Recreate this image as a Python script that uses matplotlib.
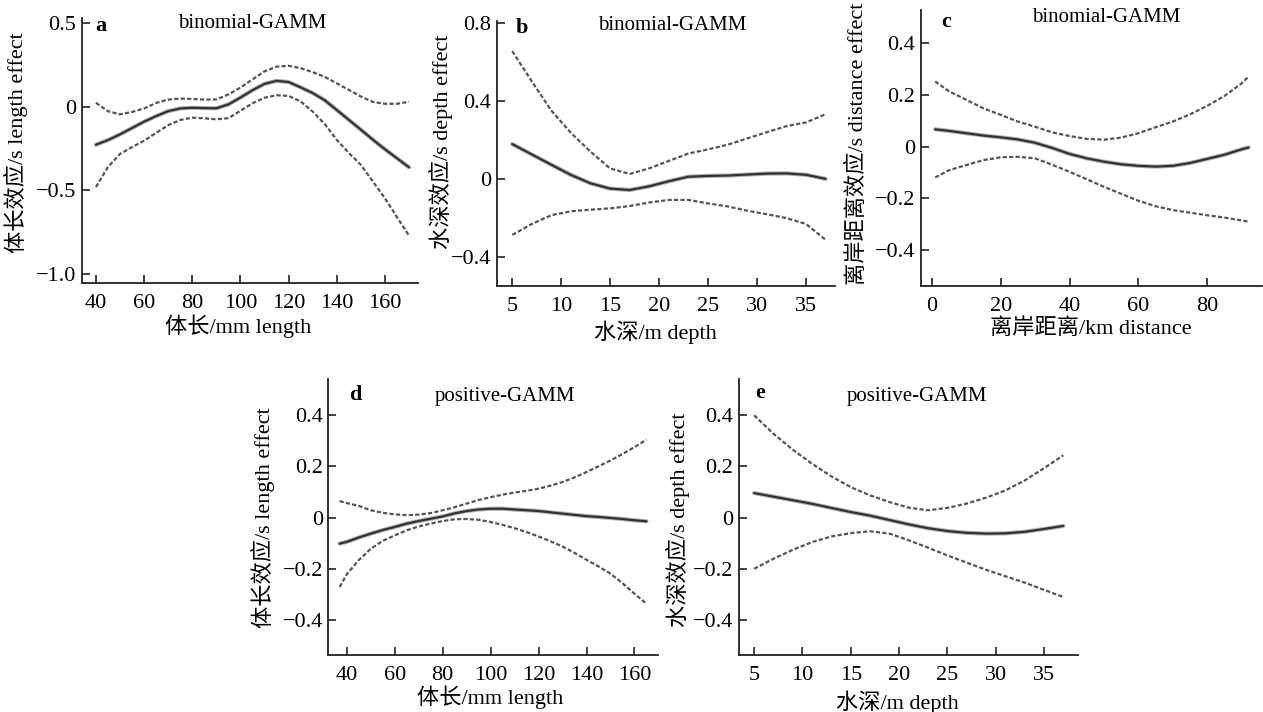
import matplotlib.pyplot as plt

plt.rcParams['font.family'] = ['Liberation Serif', 'Noto Sans CJK SC']
plt.rcParams['axes.unicode_minus'] = True

# ---- data ----
# a: binomial-GAMM, body length (mm)
a_x = [40, 45, 50, 55, 60, 65, 70, 75, 80, 85, 90, 95, 100, 105,
       110, 115, 120, 125, 130, 135, 140, 145, 150, 155, 160, 165, 170]
a_fit = [-0.227, -0.199, -0.165, -0.127, -0.089, -0.056, -0.026, -0.010, -0.006, -0.008, -0.009, 0.014, 0.055, 0.099,
         0.137, 0.155, 0.148, 0.116, 0.082, 0.039, -0.019, -0.078, -0.137, -0.197, -0.254, -0.308, -0.362]
a_up = [0.024, -0.027, -0.045, -0.031, -0.010, 0.023, 0.043, 0.049, 0.047, 0.043, 0.044, 0.074, 0.115, 0.164,
        0.212, 0.240, 0.245, 0.231, 0.207, 0.179, 0.140, 0.101, 0.061, 0.029, 0.018, 0.018, 0.03]
a_lo = [-0.48, -0.36, -0.282, -0.241, -0.203, -0.156, -0.110, -0.079, -0.065, -0.069, -0.075, -0.068, -0.024, 0.021,
        0.054, 0.069, 0.065, 0.032, -0.029, -0.103, -0.198, -0.276, -0.347, -0.447, -0.547, -0.66, -0.77]

# b: binomial-GAMM, depth (m)
b_x = [5, 7, 9, 11, 13, 15, 17, 19, 21, 23, 25, 27, 29, 31, 33, 35, 37]
b_fit = [0.179, 0.126, 0.073, 0.021, -0.022, -0.049, -0.056, -0.037, -0.011, 0.012, 0.016, 0.018, 0.023, 0.028, 0.029, 0.022, 0.001]
b_up = [0.655, 0.50, 0.35, 0.236, 0.14, 0.054, 0.026, 0.055, 0.093, 0.131, 0.152, 0.176, 0.208, 0.24, 0.271, 0.29, 0.332]
b_lo = [-0.286, -0.23, -0.185, -0.165, -0.157, -0.150, -0.138, -0.12, -0.107, -0.107, -0.125, -0.14, -0.162, -0.18, -0.2, -0.23, -0.311]

# c: binomial-GAMM, distance offshore (km)
c_x = [1, 5, 10, 15, 20, 25, 30, 35, 40, 45, 50, 55, 60, 65, 70, 75, 80, 85, 90, 92]
c_fit = [0.067, 0.061, 0.052, 0.043, 0.036, 0.028, 0.015, -0.005, -0.028, -0.045, -0.058, -0.068, -0.074, -0.077, -0.074, -0.063, -0.047, -0.031, -0.010, -0.003]
c_up = [0.252, 0.214, 0.181, 0.148, 0.123, 0.097, 0.077, 0.055, 0.041, 0.03, 0.027, 0.035, 0.052, 0.075, 0.097, 0.125, 0.158, 0.196, 0.245, 0.271]
c_lo = [-0.119, -0.091, -0.071, -0.052, -0.041, -0.039, -0.045, -0.07, -0.097, -0.126, -0.155, -0.182, -0.209, -0.230, -0.245, -0.255, -0.265, -0.274, -0.285, -0.290]

# d: positive-GAMM, body length (mm)
d_x = [37, 40, 45, 50, 55, 60, 65, 70, 75, 80, 85, 90, 95, 100,
       105, 110, 115, 120, 125, 130, 135, 140, 145, 150, 155, 160, 165]
d_fit = [-0.101, -0.094, -0.077, -0.062, -0.048, -0.036, -0.023, -0.013, -0.004, 0.005, 0.017, 0.026, 0.032, 0.035,
         0.035, 0.032, 0.029, 0.026, 0.021, 0.016, 0.011, 0.006, 0.003, -0.001, -0.005, -0.01, -0.014]
d_up = [0.065, 0.057, 0.046, 0.029, 0.019, 0.013, 0.010, 0.012, 0.018, 0.029, 0.041, 0.055, 0.069, 0.080,
        0.090, 0.098, 0.105, 0.113, 0.125, 0.139, 0.157, 0.178, 0.2, 0.223, 0.248, 0.275, 0.304]
d_lo = [-0.27, -0.22, -0.165, -0.121, -0.09, -0.069, -0.049, -0.034, -0.023, -0.013, -0.006, -0.005, -0.008, -0.017,
        -0.028, -0.041, -0.056, -0.073, -0.092, -0.112, -0.137, -0.164, -0.19, -0.218, -0.255, -0.296, -0.335]

# e: positive-GAMM, depth (m)
e_x = [5, 7, 9, 11, 13, 15, 17, 19, 21, 23, 25, 27, 29, 31, 33, 35, 37]
e_fit = [0.096, 0.082, 0.068, 0.054, 0.038, 0.022, 0.008, -0.009, -0.026, -0.041, -0.052, -0.059, -0.062, -0.061, -0.055, -0.044, -0.032]
e_up = [0.399, 0.327, 0.265, 0.210, 0.161, 0.119, 0.087, 0.061, 0.039, 0.029, 0.038, 0.055, 0.078, 0.106, 0.145, 0.193, 0.243]
e_lo = [-0.199, -0.160, -0.125, -0.095, -0.073, -0.060, -0.053, -0.062, -0.088, -0.117, -0.147, -0.175, -0.203, -0.228, -0.253, -0.281, -0.309]

# tick labels
len_ticks = [40, 60, 80, 100, 120, 140, 160]
depth_ticks = [5, 10, 15, 20, 25, 30, 35]
dist_ticks = [0, 20, 40, 60, 80]
y_small = [0.4, 0.2, 0, -0.2, -0.4]
y_small_lab = ['0.4', '0.2', '0', '\u22120.2', '\u22120.4']

panels = [
    dict(pos=[0.0649, 0.6025, 0.266, 0.372], x=a_x, fit=a_fit, up=a_up, lo=a_lo,
         xlim=(34.2, 173.7), ylim=(-1.054, 0.53), xticks=len_ticks,
         yticks=[0.5, 0, -0.5, -1.0], yticklabels=['0.5', '0', '\u22120.5', '\u22121.0'],
         letter='a', letter_xy=(0.057, 0.972), model='binomial-GAMM', model_xy=(0.506, 0.978),
         xlabel='体长/mm length', xlabel_xy=(0.464, -0.12),
         ylabel='体长效应/s length effect', ylabel_xy=(-0.161, 0.53)),
    dict(pos=[0.3935, 0.598, 0.2676, 0.3726], x=b_x, fit=b_fit, up=b_up, lo=b_lo,
         xlim=(3.44, 37.96), ylim=(-0.549, 0.81), xticks=depth_ticks,
         yticks=[0.8, 0.4, 0, -0.4], yticklabels=['0.8', '0.4', '0', '\u22120.4'],
         letter='b', letter_xy=(0.073, 0.972), model='binomial-GAMM', model_xy=(0.519, 0.984),
         xlabel='水深/m depth', xlabel_xy=(0.47, -0.128),
         ylabel='水深效应/s depth effect', ylabel_xy=(-0.13, 0.544)),
    dict(pos=[0.729, 0.598, 0.270, 0.388], x=c_x, fit=c_fit, up=c_up, lo=c_lo,
         xlim=(-3.2, 95.8), ylim=(-0.539, 0.528), xticks=dist_ticks,
         yticks=y_small, yticklabels=y_small_lab,
         letter='c', letter_xy=(0.074, 0.958), model='binomial-GAMM', model_xy=(0.543, 0.972),
         xlabel='离岸距离/km distance', xlabel_xy=(0.50, -0.116),
         ylabel='离岸距离效应/s distance effect', ylabel_xy=(-0.155, 0.515)),
    dict(pos=[0.26, 0.080, 0.2613, 0.3872], x=d_x, fit=d_fit, up=d_up, lo=d_lo,
         xlim=(32.3, 170), ylim=(-0.535, 0.539), xticks=len_ticks,
         yticks=y_small, yticklabels=y_small_lab,
         letter='d', letter_xy=(0.081, 0.943), model='positive-GAMM', model_xy=(0.535, 0.937),
         xlabel='体长/mm length', xlabel_xy=(0.49, -0.109),
         ylabel='体长效应/s length effect', ylabel_xy=(-0.162, 0.50)),
    dict(pos=[0.585, 0.080, 0.2684, 0.3876], x=e_x, fit=e_fit, up=e_up, lo=e_lo,
         xlim=(3.42, 38.5), ylim=(-0.535, 0.54), xticks=depth_ticks,
         yticks=y_small, yticklabels=y_small_lab,
         letter='e', letter_xy=(0.062, 0.95), model='positive-GAMM', model_xy=(0.524, 0.937),
         xlabel='水深/m depth', xlabel_xy=(0.469, -0.127),
         ylabel='水深效应/s depth effect', ylabel_xy=(-0.145, 0.49)),
]

fig = plt.figure(figsize=(12.63, 7.12), dpi=100)

for p in panels:
    ax = fig.add_axes(p['pos'])
    # soft grey halo under the fitted curve, then the curve itself
    ax.plot(p['x'], p['fit'], color='#b0b0b0', lw=3.0, solid_capstyle='round', solid_joinstyle='round')
    ax.plot(p['x'], p['fit'], color='#333333', lw=1.6, solid_capstyle='round', solid_joinstyle='round')
    # 95% confidence bands
    for ci in (p['up'], p['lo']):
        ax.plot(p['x'], ci, color='#555555', lw=1.6, linestyle=(0, (1.9, 1.0)))

    ax.set_xlim(*p['xlim'])
    ax.set_ylim(*p['ylim'])
    ax.set_xticks(p['xticks'])
    ax.set_yticks(p['yticks'])
    ax.set_yticklabels(p['yticklabels'])
    ax.tick_params(direction='in', length=6, width=1.2, labelsize=16, color='#222222')
    ax.tick_params(axis='x', pad=8)
    ax.tick_params(axis='y', pad=4)
    for s in ('top', 'right'):
        ax.spines[s].set_visible(False)
    for s in ('left', 'bottom'):
        ax.spines[s].set_linewidth(1.3)
        ax.spines[s].set_color('#222222')

    ax.text(*p['letter_xy'], p['letter'], transform=ax.transAxes, fontsize=16,
            fontweight='bold', ha='center', va='center')
    ax.text(*p['model_xy'], p['model'], transform=ax.transAxes, fontsize=15,
            ha='center', va='center')

    ax.set_xlabel(p['xlabel'], fontsize=16, va='top')
    ax.xaxis.set_label_coords(*p['xlabel_xy'])
    ax.set_ylabel(p['ylabel'], fontsize=16)
    ax.yaxis.set_label_coords(*p['ylabel_xy'])

fig.savefig('out.png', dpi=100)
